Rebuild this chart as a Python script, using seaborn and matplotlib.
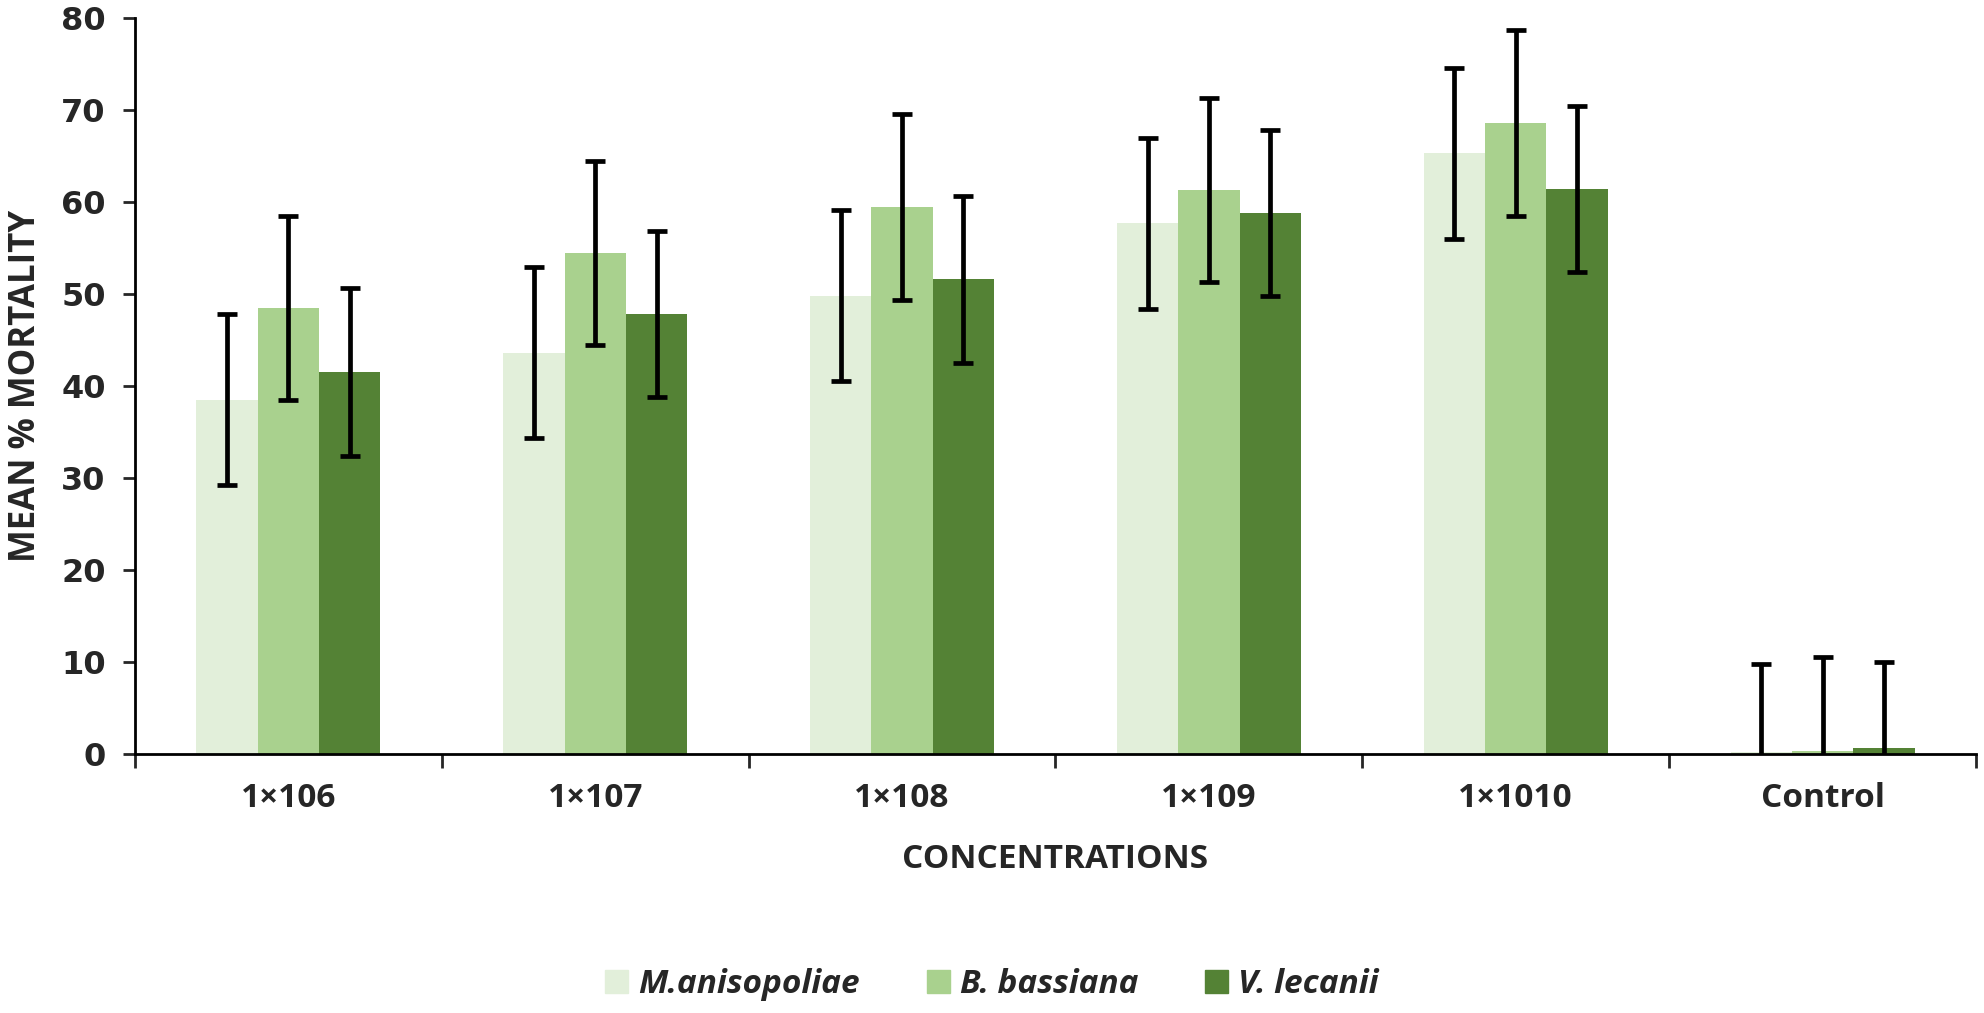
import numpy as np
import pandas as pd
import matplotlib
matplotlib.use("Agg")
import matplotlib.pyplot as plt
import seaborn as sns
from matplotlib.ticker import MultipleLocator, FixedLocator

# data
concentrations = ["1×106", "1×107", "1×108", "1×109", "1×1010", "Control"]
species = ["M.anisopoliae", "B. bassiana", "V. lecanii"]
m_aniso = [38.5, 43.6, 49.8, 57.7, 65.3, 0.2]
b_bass = [48.5, 54.5, 59.5, 61.3, 68.6, 0.3]
v_lec = [41.5, 47.8, 51.6, 58.8, 61.4, 0.7]
m_err = [9.3, 9.3, 9.3, 9.3, 9.3, 9.6]
b_err = [10.0, 10.0, 10.1, 10.0, 10.1, 10.2]
v_err = [9.1, 9.0, 9.1, 9.0, 9.0, 9.3]
colors = ["#E2EFDA", "#A9D18E", "#548235"]

df = pd.DataFrame({
    "conc": concentrations * 3,
    "species": np.repeat(species, len(concentrations)),
    "mortality": m_aniso + b_bass + v_lec,
})
errs = [m_err, b_err, v_err]

sns.set_style("white")
fig = plt.figure(figsize=(19.84, 10.13), dpi=100)
ax = fig.add_axes([0.068, 0.2557, 0.928, 0.7265])

sns.barplot(data=df, x="conc", y="mortality", hue="species", order=concentrations,
            hue_order=species, palette=colors, width=0.6, gap=0, errorbar=None,
            saturation=1, linewidth=0, ax=ax, legend=True)
ax.get_legend().remove()

for cont, err in zip(ax.containers, errs):
    xs = [b.get_x() + b.get_width() / 2 for b in cont]
    ys = [b.get_height() for b in cont]
    ax.errorbar(xs, ys, yerr=err, fmt="none", ecolor="black", elinewidth=3.4,
                capsize=7.5, capthick=3.4, zorder=5)

ax.set_xlim(-0.5, 5.5)
ax.set_ylim(0, 80)
ax.yaxis.set_major_locator(MultipleLocator(10))
for s in ["top", "right"]:
    ax.spines[s].set_visible(False)
for s in ["left", "bottom"]:
    ax.spines[s].set_linewidth(2)
    ax.spines[s].set_color("black")

ax.tick_params(axis="y", which="major", direction="out", length=9, width=2,
               left=True, labelsize=23, pad=12)
ax.tick_params(axis="x", which="major", length=0, pad=20)
ax.xaxis.set_minor_locator(FixedLocator(np.arange(-0.5, 6, 1)))
ax.tick_params(axis="x", which="minor", direction="out", length=10, width=2, bottom=True)

for lbl in ax.get_yticklabels():
    lbl.set_fontweight("bold")
    lbl.set_family("DejaVu Sans")
for lbl in ax.get_xticklabels():
    lbl.set_fontweight("bold")
    lbl.set_family("Open Sans")
    lbl.set_fontsize(24)

ax.set_xlabel("CONCENTRATIONS", fontsize=24, fontweight="bold", family="Open Sans", labelpad=20)
ax.set_ylabel("MEAN % MORTALITY", fontsize=25, fontweight="bold", family="Open Sans", labelpad=12)

handles = [plt.Rectangle((0, 0), 1, 1, color=c) for c in colors]
fig.legend(handles, species, loc="center", bbox_to_anchor=(0.5, 0.028), ncol=3,
           frameon=False, handlelength=0.7, handleheight=0.7, handletextpad=0.3,
           columnspacing=2.0, prop={"family": "Open Sans", "weight": "bold",
                                    "style": "italic", "size": 24})

fig.savefig("out.png", dpi=100)
